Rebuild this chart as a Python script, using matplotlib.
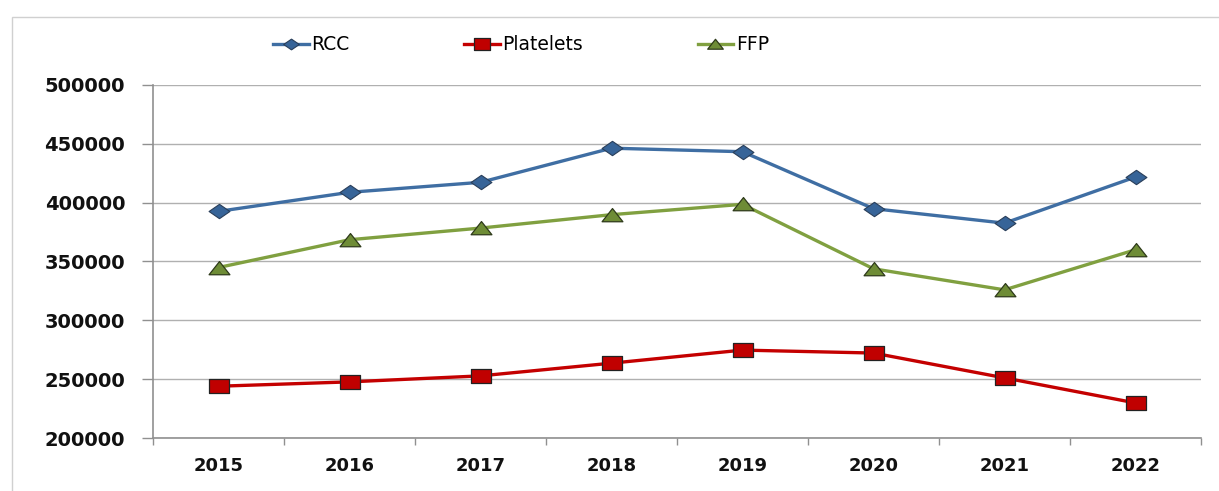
import numpy as np
import matplotlib
matplotlib.use('Agg')
import matplotlib.pyplot as plt
from matplotlib.path import Path
from matplotlib.patches import Rectangle

years = ['2015', '2016', '2017', '2018', '2019', '2020', '2021', '2022']
rcc = [392600, 408800, 417300, 446300, 443300, 394900, 382600, 421800]
platelets = [244000, 247700, 252800, 263600, 274700, 272200, 251100, 229800]
ffp = [344900, 368500, 378400, 389800, 398600, 343800, 325900, 360000]

# markers in the reference are stretched sideways
diamond = Path([(-1.45, 0), (0, 1), (1.45, 0), (0, -1), (-1.45, 0)],
               [Path.MOVETO, Path.LINETO, Path.LINETO, Path.LINETO, Path.CLOSEPOLY])
square = Path([(-1.4, -1), (1.4, -1), (1.4, 1), (-1.4, 1), (-1.4, -1)],
              [Path.MOVETO, Path.LINETO, Path.LINETO, Path.LINETO, Path.CLOSEPOLY])
triangle = Path([(-1.5, -0.9), (1.5, -0.9), (0, 1.0), (-1.5, -0.9)],
                [Path.MOVETO, Path.LINETO, Path.LINETO, Path.CLOSEPOLY])

fig = plt.figure(figsize=(12.19, 4.91), dpi=100)
ax = fig.add_axes([153 / 1219, 1 - 438 / 491, (1201 - 153) / 1219, (438 - 85) / 491])

# outer chart border (runs off the right and bottom edge)
fig.patches.append(Rectangle((12 / 1219, -0.1), 1.2, 1 - 17 / 491 + 0.1,
                             transform=fig.transFigure, fill=False,
                             edgecolor='#d0d0d0', linewidth=1.0))

x = np.arange(len(years))
ax.plot(x, rcc, color='#3F6EA3', linewidth=2.4, marker=diamond, markersize=15,
        markerfacecolor='#376498', markeredgecolor='#2a3f5a', markeredgewidth=0.8,
        label='RCC', zorder=3)
ax.plot(x, platelets, color='#C40000', linewidth=2.4, marker=square, markersize=15,
        markerfacecolor='#C00000', markeredgecolor='#222222', markeredgewidth=0.9,
        label='Platelets', zorder=3)
ax.plot(x, ffp, color='#80A040', linewidth=2.4, marker=triangle, markersize=15,
        markerfacecolor='#6E8C36', markeredgecolor='#2e3a1a', markeredgewidth=0.9,
        label='FFP', zorder=3)

ax.set_xlim(-0.5, len(years) - 0.5)
ax.set_ylim(200000, 500000)
ax.set_yticks(np.arange(200000, 500001, 50000))
ax.set_yticklabels([str(v) for v in range(200000, 500001, 50000)],
                   fontsize=14, fontweight='bold', color='#111111')
ax.yaxis.grid(True, color='#b0b0b0', linewidth=1.0)
ax.set_axisbelow(True)

ax.set_xticks(x)
ax.set_xticklabels(years, fontsize=13, fontweight='bold', color='#111111')
ax.set_xticks(np.arange(-0.5, len(years), 1.0), minor=True)
ax.tick_params(axis='x', which='major', length=0, pad=14)
ax.tick_params(axis='x', which='minor', length=5, color='#909090', width=1)
ax.tick_params(axis='y', length=8, color='#909090', width=1, pad=12)

for s in ['top', 'right']:
    ax.spines[s].set_visible(False)
for s in ['left', 'bottom']:
    ax.spines[s].set_color('#909090')
    ax.spines[s].set_linewidth(1.2)

fig.legend(loc='center', bbox_to_anchor=(521 / 1219, 1 - 45 / 491), ncol=3,
           frameon=False, fontsize=13.5, handlelength=1.9, handletextpad=0.15,
           columnspacing=6.1, markerscale=0.75)

fig.savefig('out.png', dpi=100)
